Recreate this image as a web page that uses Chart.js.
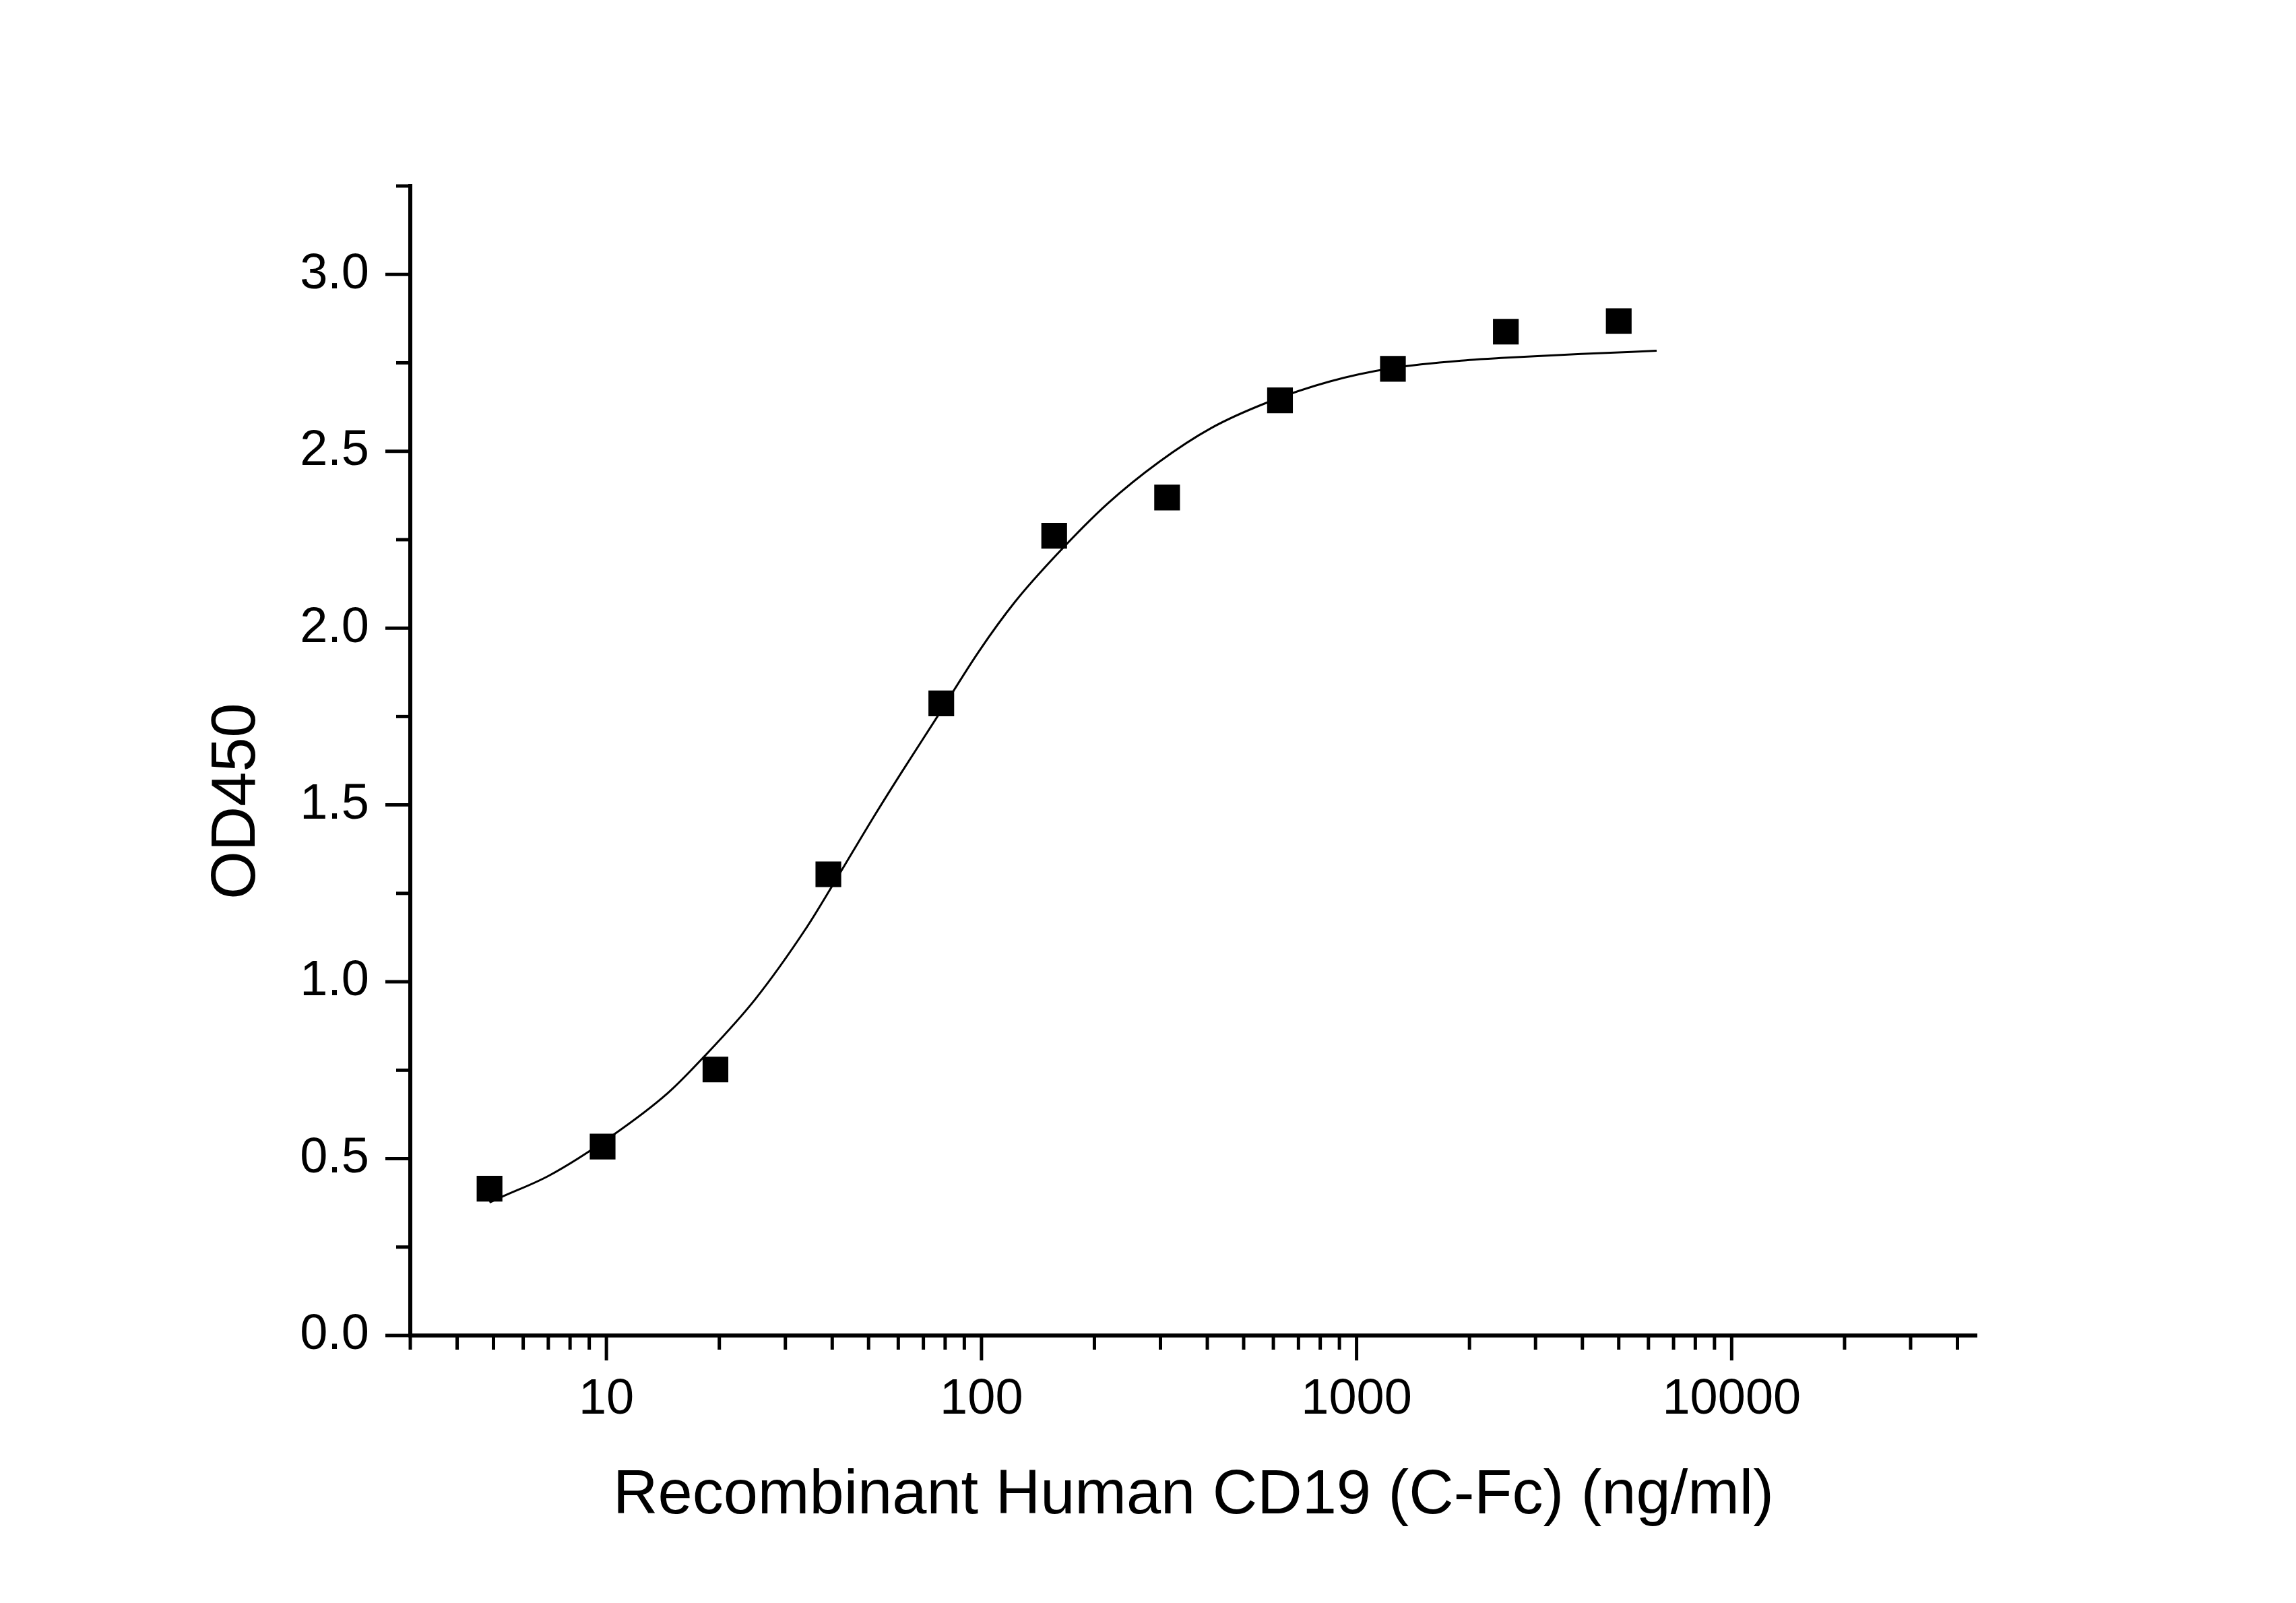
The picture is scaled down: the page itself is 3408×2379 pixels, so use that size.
<!DOCTYPE html>
<html>
<head>
<meta charset="utf-8">
<script src="https://cdn.jsdelivr.net/npm/chart.js@4.4.1/dist/chart.umd.min.js"></script>
<style>
  html, body { margin: 0; padding: 0; background: #ffffff; }
  canvas { display: block; }
</style>
</head>
<body>
<canvas id="elisaChart" width="3408" height="2379"></canvas>
<script>
// Concentrații (ng/ml) și valorile OD450
const concentrations = [4.88, 9.77, 19.53, 39.06, 78.13, 156.25, 312.5, 625, 1250, 2500, 5000];
const od450Values = [0.415, 0.534, 0.752, 1.304, 1.787, 2.261, 2.369, 2.644, 2.733, 2.838, 2.868];

// Curba de fit, citită punct cu punct de pe imagine
const fitConcentrations = [4.88, 5.29, 7.03, 10.3, 14.6, 18.2, 24.9, 34.2, 40.1, 52.2, 61.2, 76.4, 98.4,
    122.8, 158.1, 216.9, 297.6, 408.6, 578.4, 847, 1245, 2000, 2472, 3971, 6310];
const fitOd450 = [0.376, 0.393, 0.452, 0.563, 0.686, 0.788, 0.950, 1.154, 1.273, 1.475, 1.592, 1.751, 1.934,
    2.074, 2.206, 2.352, 2.470, 2.565, 2.638, 2.697, 2.735, 2.758, 2.764, 2.775, 2.784];

// Gradații axe
const xTickValues = [3, 4, 5, 6, 7, 8, 9,
    10, 20, 30, 40, 50, 60, 70, 80, 90,
    100, 200, 300, 400, 500, 600, 700, 800, 900,
    1000, 2000, 3000, 4000, 5000, 6000, 7000, 8000, 9000,
    10000, 20000, 30000, 40000];
const xMajorTicks = [10, 100, 1000, 10000];
const yTickValues = [0, 0.25, 0.5, 0.75, 1.0, 1.25, 1.5, 1.75, 2.0, 2.25, 2.5, 2.75, 3.0, 3.25];
const yMajorTicks = [0, 0.5, 1.0, 1.5, 2.0, 2.5, 3.0];

const xTitle = 'Recombinant Human CD19 (C-Fc) (ng/ml)';
const yTitle = 'OD450';

const fontFamily = "'Liberation Sans', Arial, Helvetica, sans-serif";

// Desenăm manual liniuțele (majore lungi, minore scurte)
const tickMarksPlugin = {
    id: 'tickMarks',
    afterDraw(chart) {
        const ctx = chart.ctx;
        const area = chart.chartArea;
        const xScale = chart.scales.x;
        const yScale = chart.scales.y;
        ctx.save();
        ctx.strokeStyle = '#000000';
        ctx.lineWidth = 5;
        ctx.lineCap = 'butt';
        xScale.ticks.forEach(function(t) {
            const px = xScale.getPixelForValue(t.value);
            const len = xMajorTicks.includes(t.value) ? 37 : 21;
            ctx.beginPath();
            ctx.moveTo(px, area.bottom);
            ctx.lineTo(px, area.bottom + len);
            ctx.stroke();
        });
        yScale.ticks.forEach(function(t) {
            const py = yScale.getPixelForValue(t.value);
            const len = yMajorTicks.includes(t.value) ? 37 : 21;
            ctx.beginPath();
            ctx.moveTo(area.left, py);
            ctx.lineTo(area.left - len, py);
            ctx.stroke();
        });

        // Titlul axei Y
        ctx.fillStyle = '#000000';
        ctx.font = '92px ' + fontFamily;
        ctx.textAlign = 'center';
        ctx.textBaseline = 'middle';
        ctx.translate(353, 1189);
        ctx.rotate(-Math.PI / 2);
        ctx.fillText(yTitle, 0, 0);
        ctx.restore();
    }
};

const ctx = document.getElementById('elisaChart').getContext('2d');

new Chart(ctx, {
    type: 'line',
    data: {
        datasets: [{
            label: 'Data',
            data: concentrations.map(function(c, i) { return { x: c, y: od450Values[i] }; }),
            showLine: false,
            pointStyle: 'rect',
            pointRadius: 27,
            pointBackgroundColor: '#000000',
            pointBorderColor: '#000000',
            pointBorderWidth: 0,
            order: 1
        }, {
            label: 'Fit',
            data: fitConcentrations.map(function(c, i) { return { x: c, y: fitOd450[i] }; }),
            borderColor: '#000000',
            borderWidth: 3,
            pointRadius: 0,
            cubicInterpolationMode: 'monotone',
            fill: false,
            order: 2
        }]
    },
    options: {
        responsive: false,
        animation: false,
        devicePixelRatio: 1,
        layout: {
            padding: { left: 0, top: 276, right: 474, bottom: 0 }
        },
        scales: {
            x: {
                type: 'logarithmic',
                position: 'bottom',
                min: 3,
                max: 45000,
                afterBuildTicks: function(scale) {
                    scale.ticks = xTickValues.map(function(v) { return { value: v }; });
                },
                afterFit: function(scale) { scale.height = 397; },
                grid: {
                    display: true,
                    drawOnChartArea: false,
                    drawTicks: true,
                    tickLength: 37,
                    color: 'rgba(0,0,0,0)'
                },
                border: { display: true, color: '#000000', width: 6 },
                ticks: {
                    autoSkip: false,
                    maxRotation: 0,
                    padding: 14,
                    color: '#000000',
                    font: { family: fontFamily, size: 74 },
                    callback: function(value) {
                        return xMajorTicks.includes(value) ? String(value) : '';
                    }
                },
                title: {
                    display: true,
                    text: xTitle,
                    color: '#000000',
                    font: { family: fontFamily, size: 92 },
                    padding: { top: 0, bottom: 103 }
                }
            },
            y: {
                type: 'linear',
                position: 'left',
                min: 0,
                max: 3.25,
                afterBuildTicks: function(scale) {
                    scale.ticks = yTickValues.map(function(v) { return { value: v }; });
                },
                afterFit: function(scale) { scale.width = 609; },
                grid: {
                    display: true,
                    drawOnChartArea: false,
                    drawTicks: true,
                    tickLength: 37,
                    color: 'rgba(0,0,0,0)'
                },
                border: { display: true, color: '#000000', width: 6 },
                ticks: {
                    autoSkip: false,
                    padding: 24,
                    color: '#000000',
                    font: { family: fontFamily, size: 74 },
                    callback: function(value) {
                        return yMajorTicks.includes(value) ? value.toFixed(1) : '';
                    }
                },
                title: { display: false }
            }
        },
        plugins: {
            legend: { display: false },
            tooltip: { enabled: false }
        }
    },
    plugins: [tickMarksPlugin]
});
</script>
</body>
</html>
